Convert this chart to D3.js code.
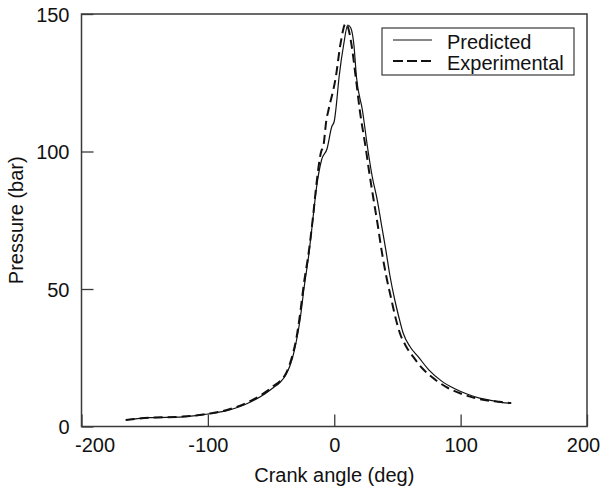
<!DOCTYPE html>
<html>
<head>
<meta charset="utf-8">
<script src="https://cdn.jsdelivr.net/npm/d3@7"></script>
<style>
  body { margin: 0; background: #fff; }
  text { font-family: "Liberation Sans", Arial, sans-serif; fill: #111; }
</style>
</head>
<body>
<div id="chart"></div>
<script>
// crank angle (deg) and cylinder pressure (bar)
const predAngle = [-165, -146, -120, -105, -95, -85, -75, -65, -55, -48, -43, -38, -33, -30, -27, -24, -20, -17, -14, -10, -5.7, -2, 0, 1.2, 3.8, 7.5, 10.7, 13, 15.5, 17.6, 22.3, 26.5, 30, 34, 37.5, 40.8, 44, 47.9, 51, 54.5, 60, 66.4, 75, 85, 95, 105, 115, 125, 132, 140];
const predPress = [2.4, 3.2, 3.5, 4.2, 4.9, 5.8, 7.2, 9.2, 11.8, 14.2, 16, 19, 25, 31, 39, 50, 63, 75, 87, 97, 101, 109, 111, 115, 127, 139, 146, 145, 139, 127, 115, 101, 91, 82.4, 73, 64.2, 55, 46, 40, 34, 29, 25.4, 20.5, 16.5, 13.8, 11.8, 10.3, 9.4, 8.8, 8.5];

const expAngle = [-165, -146, -120, -105, -95, -85, -75, -65, -55, -48, -43, -38, -33, -30, -27.3, -24, -20, -16.8, -14, -10, -8.9, -6.2, -4.6, 1.2, 4.9, 9, 11, 13.6, 17, 20.2, 25, 27.5, 31.3, 34.5, 37.4, 41, 45.3, 48.5, 51.9, 57, 62.4, 70, 80, 90, 100, 110, 120, 130, 140];
const expPress = [2.4, 3.2, 3.6, 4.3, 5.0, 6.0, 7.5, 9.6, 12.3, 14.8, 16.5, 19.5, 26, 32, 40, 52, 64, 76.3, 88.5, 100.5, 101.3, 111.5, 115, 127, 139, 146.5, 145, 139, 127, 115, 101, 93, 82, 73, 64.2, 55, 46, 39.5, 34, 29, 25.4, 21, 17, 14, 12, 10.5, 9.5, 9, 8.5];

const xTicks = [-200, -100, 0, 100, 200];
const yTicks = [0, 50, 100, 150];
const seriesNames = ["Predicted", "Experimental"];

const W = 603, H = 493;
const margin = {top: 14, right: 16, bottom: 66.5, left: 81.5},
  width = W - margin.left - margin.right,
  height = H - margin.top - margin.bottom;

const svg = d3.select("#chart")
  .append("svg")
    .attr("width", W)
    .attr("height", H)
  .append("g")
    .attr("transform", `translate(${margin.left},${margin.top})`);

const x = d3.scaleLinear().domain([-200, 200]).range([0, width]);
const y = d3.scaleLinear().domain([0, 150]).range([height, 0]);

const frameColor = "#3a3a3a";
const plain = d => String(d);   // plain hyphen minus, like the original

// ticks pointing inward
const xAxis = svg.append("g")
  .attr("transform", `translate(0,${height})`)
  .call(d3.axisBottom(x).tickValues(xTicks).tickFormat(plain).tickSize(-12).tickPadding(11));
const yAxis = svg.append("g")
  .call(d3.axisLeft(y).tickValues(yTicks).tickFormat(plain).tickSize(-12).tickPadding(12));

[xAxis, yAxis].forEach(a => {
  a.select(".domain").remove();
  a.selectAll(".tick line").attr("stroke", frameColor).attr("stroke-width", 1.3);
  a.selectAll(".tick text").style("font-size", "20px").attr("fill", "#111");
});
// end labels kept inside the page
xAxis.selectAll(".tick text")
  .attr("dx", d => d === -200 ? 13 : (d === 200 ? -4 : 0));
yAxis.selectAll(".tick text").attr("dy", "0.35em");

// frame
svg.append("rect")
  .attr("width", width)
  .attr("height", height)
  .attr("fill", "none")
  .attr("stroke", frameColor)
  .attr("stroke-width", 1.5);

const line = d3.line()
  .x(d => x(d[0]))
  .y(d => y(d[1]))
  .curve(d3.curveMonotoneX);

svg.append("path")
  .datum(expAngle.map((a, i) => [a, expPress[i]]))
  .attr("fill", "none")
  .attr("stroke", "#111")
  .attr("stroke-width", 2)
  .attr("stroke-dasharray", "9,5")
  .attr("d", line);

svg.append("path")
  .datum(predAngle.map((a, i) => [a, predPress[i]]))
  .attr("fill", "none")
  .attr("stroke", "#111")
  .attr("stroke-width", 1.2)
  .attr("d", line);

// axis titles
svg.append("text")
  .attr("x", width / 2)
  .attr("y", height + 55)
  .attr("text-anchor", "middle")
  .style("font-size", "20px")
  .text("Crank angle (deg)");

svg.append("text")
  .attr("transform", `translate(${-59},${height / 2}) rotate(-90)`)
  .attr("text-anchor", "middle")
  .style("font-size", "20px")
  .text("Pressure (bar)");

// legend
const lg = svg.append("g").attr("transform", `translate(${382 - margin.left},${28 - margin.top})`);
lg.append("rect")
  .attr("width", 192)
  .attr("height", 47)
  .attr("fill", "#fff")
  .attr("stroke", frameColor)
  .attr("stroke-width", 1.2);
seriesNames.forEach((name, i) => {
  const yy = 12 + i * 21;
  lg.append("line")
    .attr("x1", 11).attr("x2", 50)
    .attr("y1", yy).attr("y2", yy)
    .attr("stroke", "#111")
    .attr("stroke-width", i === 0 ? 1.2 : 2)
    .attr("stroke-dasharray", i === 0 ? null : "10,4");
  lg.append("text")
    .attr("x", 65)
    .attr("y", yy + 2)
    .attr("dy", "0.35em")
    .style("font-size", "20px")
    .text(name);
});
</script>
</body>
</html>
